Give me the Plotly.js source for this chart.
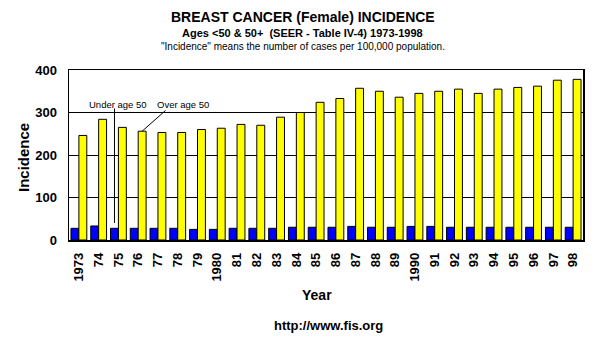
<!DOCTYPE html>
<html><head><meta charset="utf-8">
<script src="https://cdn.plot.ly/plotly-3.0.1.min.js"></script>
<style>html,body{margin:0;padding:0;background:#fff}#chart{width:602px;height:351px}</style>
</head><body><div id="chart"></div>
<script>
const years = ['1973','1974','1975','1976','1977','1978','1979','1980','1981','1982','1983','1984','1985','1986','1987','1988','1989','1990','1991','1992','1993','1994','1995','1996','1997','1998'];
const tickLabels = ['1973','74','75','76','77','78','79','1980','81','82','83','84','85','86','87','88','89','1990','91','92','93','94','95','96','97','98'];
const underAge50 = [27.5,33,27.5,27.5,27.5,27.5,25,25,27.5,27.5,27.5,30,30,30,32,30,30,32,32,30,30,30,30,30,30,30];
const overAge50 = [246,284,265,256,253,253,260,263,272,270,289,300,324,333,357,350,336,345,350,355,345,355,359,362,376,378];

const F = 'Liberation Sans, Arial, sans-serif';
const traces = [
  {type:'bar', x:years, y:underAge50, name:'Under age 50', marker:{color:'#0000ff', line:{color:'#000', width:1}}},
  {type:'bar', x:years, y:overAge50, name:'Over age 50', marker:{color:'#ffff00', line:{color:'#000', width:1}}}
];
const P = {xref:'paper', yref:'paper', xanchor:'center', yanchor:'middle', showarrow:false};
const layout = {
  width:602, height:351,
  margin:{l:69, r:19, t:70, b:111},
  paper_bgcolor:'#fff', plot_bgcolor:'#fff',
  showlegend:false,
  barmode:'group', bargap:0.2, bargroupgap:0,
  font:{family:F, color:'#000'},
  xaxis:{type:'category', tickvals:years, ticktext:tickLabels, tickangle:-90,
    tickfont:{family:F, size:13, weight:'bold', color:'#000'}, ticks:'', ticklabelstandoff:6,
    showline:true, linecolor:'#000', linewidth:1.5, mirror:true, showgrid:false, fixedrange:true},
  yaxis:{range:[0,400], tickvals:[0,100,200,300,400], ticks:'', ticklabelstandoff:8,
    tickfont:{family:F, size:13, weight:'bold', color:'#000'},
    showline:true, linecolor:'#000', linewidth:1.5, mirror:true,
    showgrid:true, gridcolor:'#000', gridwidth:1, zeroline:false},
  annotations:[
    Object.assign({}, P, {x:0.455, y:1.312, text:'BREAST CANCER (Female) INCIDENCE', font:{family:F, size:14, weight:'bold'}}),
    Object.assign({}, P, {x:0.455, y:1.218, text:'Ages &lt;50 &amp; 50+  (SEER - Table IV-4) 1973-1998', font:{family:F, size:11, weight:'bold'}}),
    Object.assign({}, P, {x:0.455, y:1.141, text:'"Incidence" means the number of cases per 100,000 population.', font:{family:F, size:10}}),
    Object.assign({}, P, {x:0.482, y:-0.324, text:'Year', font:{family:F, size:14, weight:'bold'}}),
    Object.assign({}, P, {x:-0.0895, y:0.488, text:'Incidence', textangle:-90, font:{family:F, size:15, weight:'bold'}}),
    Object.assign({}, P, {x:0.504, y:-0.5, text:'http://www.fis.org', font:{family:F, size:13, weight:'bold'}}),
    {xref:'x', yref:'y', x:2.0, y:320, xanchor:'center', yanchor:'middle', text:'Under age 50', showarrow:false, font:{family:F, size:9.5}},
    {xref:'x', yref:'y', x:5.29, y:320, xanchor:'center', yanchor:'middle', text:'Over age 50', showarrow:false, font:{family:F, size:9.5}},
    {xref:'x', yref:'y', x:1.8, y:40, axref:'x', ayref:'y', ax:1.8, ay:313, text:'', showarrow:true, arrowhead:0, arrowwidth:1, arrowcolor:'#000', standoff:0, startstandoff:0},
    {xref:'x', yref:'y', x:3.2, y:256, axref:'x', ayref:'y', ax:4.46, ay:308, text:'', showarrow:true, arrowhead:0, arrowwidth:1, arrowcolor:'#000', standoff:0, startstandoff:0}
  ]
};
Plotly.newPlot('chart', traces, layout, {staticPlot:true, displayModeBar:false});
</script></body></html>
